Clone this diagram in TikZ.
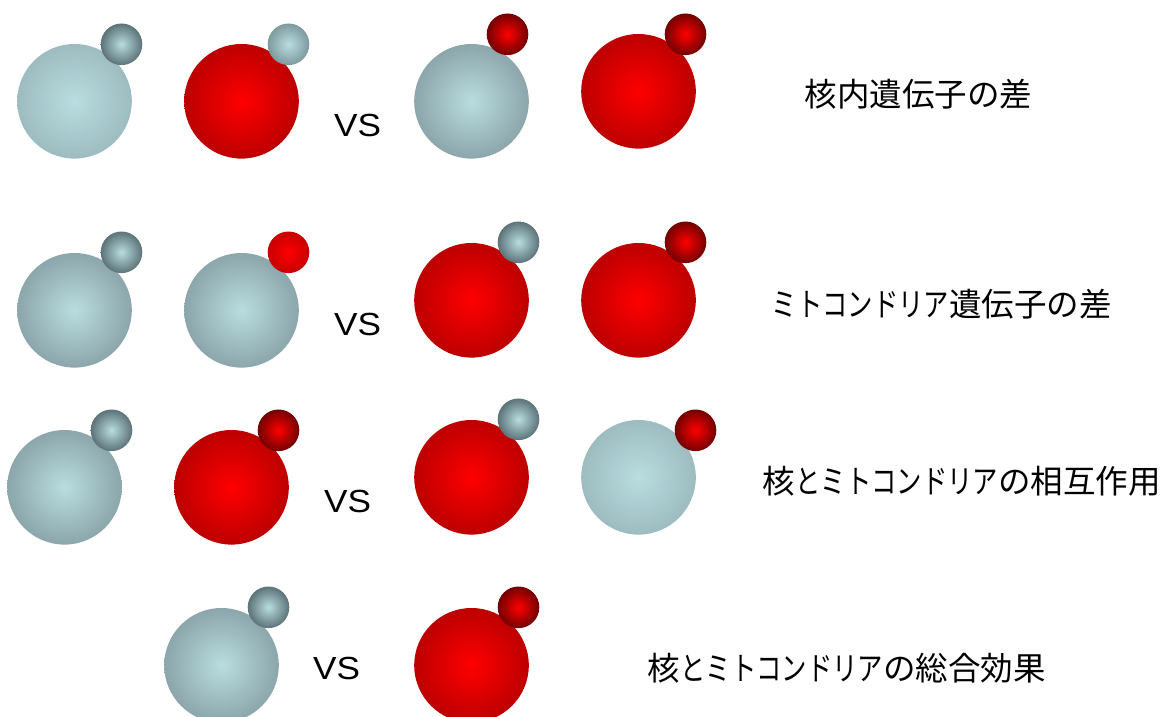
\documentclass[tikz,border=0pt]{standalone}
\usepackage{fontspec}
\newfontfamily\vsfont[FakeStretch=1.1]{Liberation Sans}
\newfontfamily\jpfont{Noto Sans CJK JP}
\newfontfamily\kanafont[FakeStretch=0.78]{Noto Sans CJK JP}
\newcommand{\kana}[1]{{\kanafont #1}}
\definecolor{cellcore}{HTML}{B9DDE0}
\definecolor{paleedge}{HTML}{9DBCC0}
\definecolor{greyedge}{HTML}{8CA6AB}
\definecolor{darkedge}{HTML}{5C7378}
\definecolor{midedge}{HTML}{7D9A9F}
\tikzset{
	palebig/.style={inner color=cellcore,outer color=paleedge},
	greybig/.style={inner color=cellcore,outer color=greyedge},
	redbig/.style={inner color=red,outer color=red!74!black},
	darksmall/.style={inner color=cellcore,outer color=darkedge},
	palesmall/.style={inner color=cellcore,outer color=midedge},
	redsmall/.style={inner color=red,outer color=red!45!black},
	plainsmall/.style={inner color=red,outer color=red!78!black},
	vslabel/.style={font=\vsfont\fontsize{18.2}{18}\selectfont},
	rowlabel/.style={font=\jpfont\fontsize{18.5}{18}\selectfont,anchor=west,inner sep=0pt}
}
\begin{document}
\begin{tikzpicture}[line join=round, line cap=round, x=.02cm, y=-.02cm]
	\useasboundingbox (-.5,-.3) rectangle (1167.5,715.7);
	% first row
	\shade[palebig] (74,101) circle(57.3);
	\shade[darksmall] (121,44) circle(20.8);
	\shade[redbig] (241,101) circle(57.3);
	\shade[palesmall] (288,44) circle(20.8);
	\shade[greybig] (471,101) circle(57.3);
	\shade[redsmall] (507,34) circle(20.8);
	\shade[redbig] (638,91) circle(57.3);
	\shade[redsmall] (685,34) circle(20.8);
	\node[vslabel] (vsa) at (357,125) {VS};
	\node[rowlabel] (rowa) at (804,94) {核内遺伝子の差};
	% second row
	\shade[greybig] (74,310) circle(57.3);
	\shade[darksmall] (121,252) circle(20.8);
	\shade[greybig] (241,310) circle(57.3);
	\shade[plainsmall] (288,252) circle(20.8);
	\shade[redbig] (471,300) circle(57.3);
	\shade[darksmall] (518,242) circle(20.8);
	\shade[redbig] (638,300) circle(57.3);
	\shade[redsmall] (685,242) circle(20.8);
	\node[vslabel] (vsb) at (357,324) {VS};
	\node[rowlabel] (rowb) at (771,304) {\kana{ミトコンドリア}遺伝子の差};
	% third row
	\shade[greybig] (64,487) circle(57.3);
	\shade[darksmall] (111,430) circle(20.8);
	\shade[redbig] (231,487) circle(57.3);
	\shade[redsmall] (278,430) circle(20.8);
	\shade[redbig] (471,477) circle(57.3);
	\shade[darksmall] (518,419) circle(20.8);
	\shade[palebig] (638,477) circle(57.3);
	\shade[redsmall] (695,430) circle(20.8);
	\node[vslabel] (vsc) at (347,501) {VS};
	\node[rowlabel] (rowc) at (762,481) {核\kana{とミトコンドリア}の相互作用};
	% last row
	\shade[greybig] (221,665) circle(57.3);
	\shade[darksmall] (268,607) circle(20.8);
	\shade[redbig] (471,665) circle(57.3);
	\shade[redsmall] (518,607) circle(20.8);
	\node[vslabel] (vsd) at (336,668) {VS};
	\node[rowlabel] (rowd) at (647,668) {核\kana{とミトコンドリア}の総合効果};
\end{tikzpicture}
\end{document}
